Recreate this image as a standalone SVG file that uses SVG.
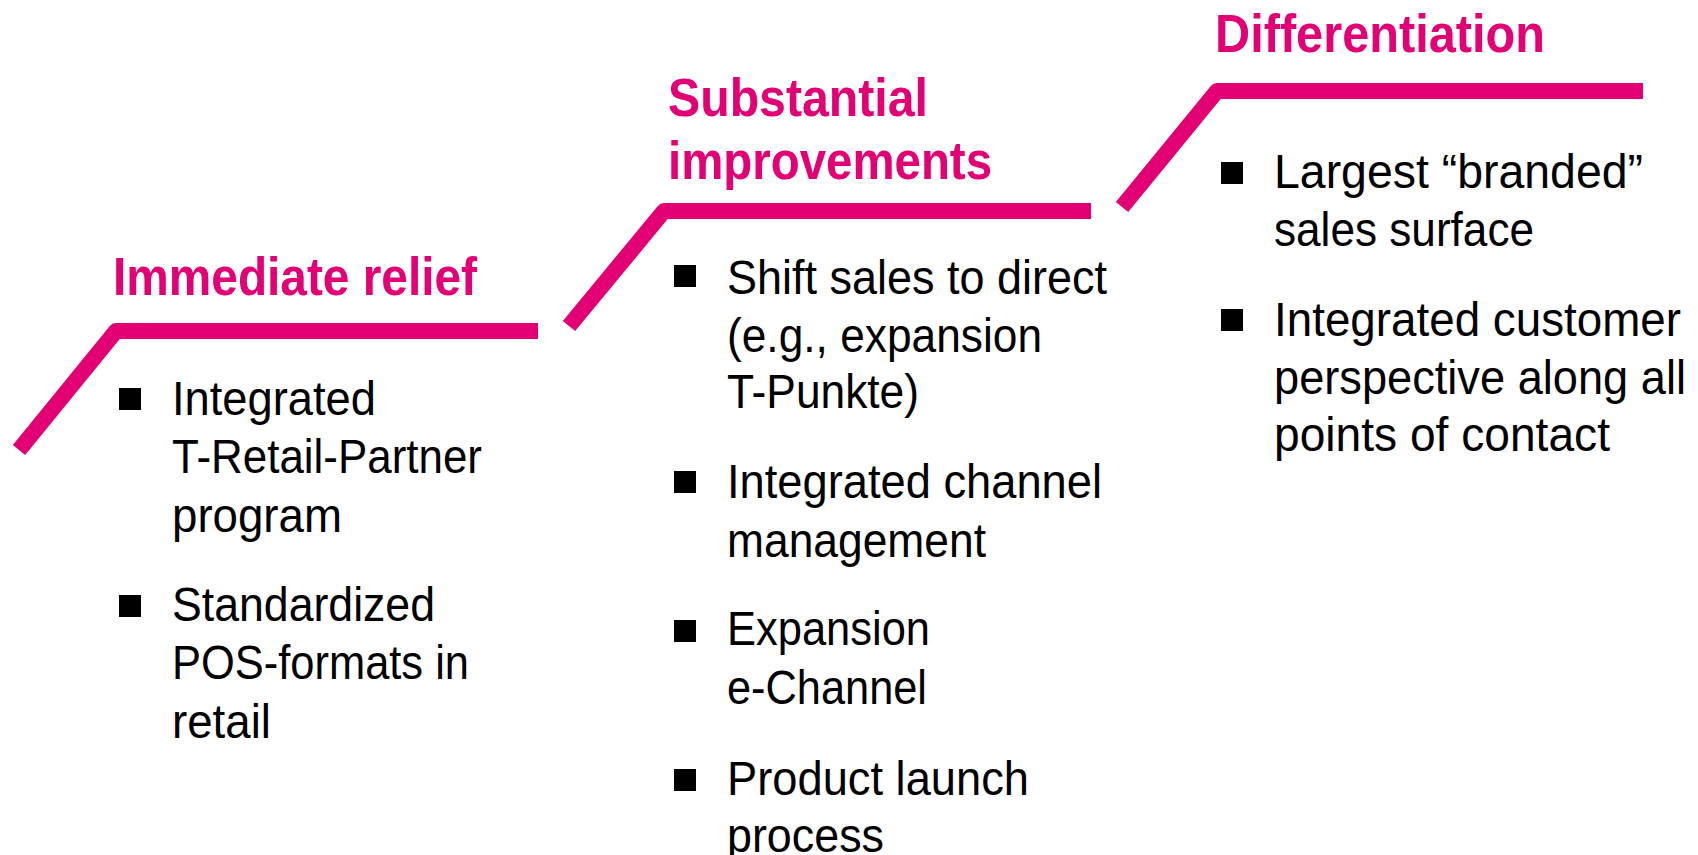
<svg xmlns="http://www.w3.org/2000/svg" width="1698" height="855" viewBox="0 0 1698 855">
<style>
.step{fill:none;stroke:#E20074;stroke-width:16;stroke-linejoin:round;stroke-linecap:butt}
.title{font-family:"Liberation Sans Narrow","Liberation Sans",Arial,sans-serif;font-weight:bold;font-size:54px;fill:#E20074}
.body{font-family:"Liberation Sans Narrow","Liberation Sans",Arial,sans-serif;font-size:49px;fill:#000}
.bul{fill:#000}
</style>
<rect width="1698" height="855" fill="#fff"/>
<g id="step1">
<path class="step" d="M19,450 L116,331 L538,331"/>
<text class="title" x="113" y="295" textLength="364" lengthAdjust="spacingAndGlyphs">Immediate relief</text>
<rect class="bul" x="119" y="388" width="22" height="22"/>
<text class="body" x="172" y="415" textLength="204" lengthAdjust="spacingAndGlyphs">Integrated</text>
<text class="body" x="172" y="473" textLength="310" lengthAdjust="spacingAndGlyphs">T-Retail-Partner</text>
<text class="body" x="172" y="532" textLength="170" lengthAdjust="spacingAndGlyphs">program</text>
<rect class="bul" x="119" y="595" width="22" height="22"/>
<text class="body" x="172" y="621" textLength="263" lengthAdjust="spacingAndGlyphs">Standardized</text>
<text class="body" x="172" y="679" textLength="297" lengthAdjust="spacingAndGlyphs">POS-formats in</text>
<text class="body" x="172" y="738" textLength="99" lengthAdjust="spacingAndGlyphs">retail</text>
</g>
<g id="step2">
<path class="step" d="M569,326 L664,211 L1091,211"/>
<text class="title" x="668" y="116" textLength="260" lengthAdjust="spacingAndGlyphs">Substantial</text>
<text class="title" x="668" y="179" textLength="324" lengthAdjust="spacingAndGlyphs">improvements</text>
<rect class="bul" x="674" y="265" width="22" height="22"/>
<text class="body" x="727" y="294" textLength="380" lengthAdjust="spacingAndGlyphs">Shift sales to direct</text>
<text class="body" x="727" y="352" textLength="315" lengthAdjust="spacingAndGlyphs">(e.g., expansion</text>
<text class="body" x="727" y="408" textLength="192" lengthAdjust="spacingAndGlyphs">T-Punkte)</text>
<rect class="bul" x="674" y="471" width="22" height="22"/>
<text class="body" x="727" y="498" textLength="375" lengthAdjust="spacingAndGlyphs">Integrated channel</text>
<text class="body" x="727" y="557" textLength="259" lengthAdjust="spacingAndGlyphs">management</text>
<rect class="bul" x="674" y="620" width="22" height="22"/>
<text class="body" x="727" y="645" textLength="203" lengthAdjust="spacingAndGlyphs">Expansion</text>
<text class="body" x="727" y="704" textLength="200" lengthAdjust="spacingAndGlyphs">e-Channel</text>
<rect class="bul" x="674" y="769" width="22" height="22"/>
<text class="body" x="727" y="795" textLength="302" lengthAdjust="spacingAndGlyphs">Product launch</text>
<text class="body" x="727" y="852" textLength="157" lengthAdjust="spacingAndGlyphs">process</text>
</g>
<g id="step3">
<path class="step" d="M1122,207 L1217,91 L1643,91"/>
<text class="title" x="1215" y="52" textLength="330" lengthAdjust="spacingAndGlyphs">Differentiation</text>
<rect class="bul" x="1221" y="162" width="22" height="22"/>
<text class="body" x="1274" y="188" textLength="369" lengthAdjust="spacingAndGlyphs">Largest “branded”</text>
<text class="body" x="1274" y="246" textLength="260" lengthAdjust="spacingAndGlyphs">sales surface</text>
<rect class="bul" x="1221" y="309" width="22" height="22"/>
<text class="body" x="1274" y="336" textLength="407" lengthAdjust="spacingAndGlyphs">Integrated customer</text>
<text class="body" x="1274" y="394" textLength="412" lengthAdjust="spacingAndGlyphs">perspective along all</text>
<text class="body" x="1274" y="451" textLength="336" lengthAdjust="spacingAndGlyphs">points of contact</text>
</g>
<g id="connectors"/>
</svg>
